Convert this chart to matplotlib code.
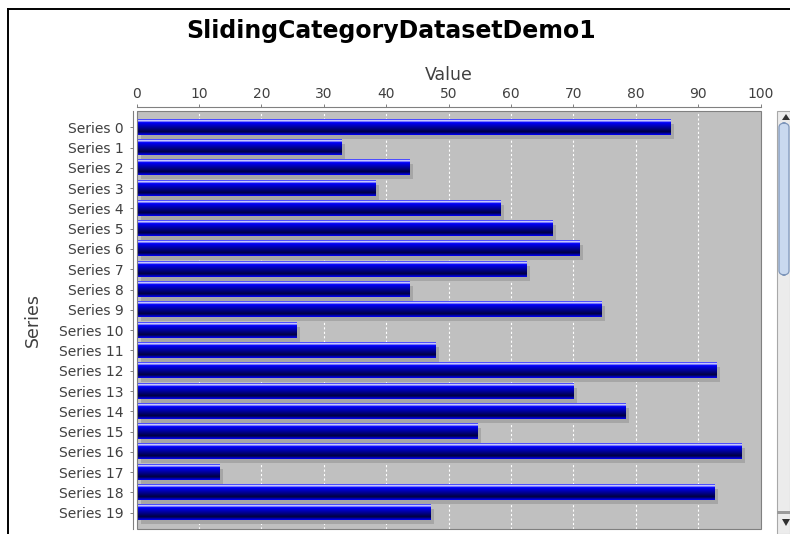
import numpy as np
import matplotlib
matplotlib.use("Agg")
import matplotlib.pyplot as plt
from matplotlib import transforms
from matplotlib.patches import Rectangle, FancyBboxPatch, Polygon
from matplotlib.lines import Line2D

# ---- data -------------------------------------------------------------
categories = ["Series 0", "Series 1", "Series 2", "Series 3", "Series 4",
              "Series 5", "Series 6", "Series 7", "Series 8", "Series 9",
              "Series 10", "Series 11", "Series 12", "Series 13", "Series 14",
              "Series 15", "Series 16", "Series 17", "Series 18", "Series 19"]
values = [85.5, 32.7, 43.6, 38.3, 58.2, 66.6, 70.9, 62.4, 43.6, 74.4,
          25.6, 47.8, 92.9, 70.0, 78.3, 54.6, 96.8, 13.3, 92.6, 47.0]
value_ticks = [0, 10, 20, 30, 40, 50, 60, 70, 80, 90, 100]

title = "SlidingCategoryDatasetDemo1"
x_label = "Value"
y_label = "Series"

# ---- figure -----------------------------------------------------------
W, H, DPI = 790, 534, 100
fig = plt.figure(figsize=(W / DPI, H / DPI), dpi=DPI, facecolor="white")


def fx(px):
    return px / W


def fy(py):
    return 1 - py / H


left, right, top, bottom = 136.5, 760.5, 111, 529
ax = fig.add_axes([fx(left), fy(bottom), fx(right) - fx(left), fy(top) - fy(bottom)])
ax.set_facecolor("#c0c0c0")

TXT = "#404040"
AXIS = "#808080"

# vertical gradient used by every bar (blue -> white -> blue -> navy -> blue)
blue = np.array([0.0, 0.0, 1.0])
white = np.array([1.0, 1.0, 1.0])
navy = np.array([0.0, 0.0, 64 / 255])
rows = []
for t in np.linspace(0, 1, 120):
    if t < 0.1:
        c = blue + (white - blue) * (t / 0.1)
    elif t < 0.2:
        c = white + (blue - white) * ((t - 0.1) / 0.1)
    elif t < 0.8:
        c = blue + (navy - blue) * ((t - 0.2) / 0.6)
    else:
        c = navy + (blue - navy) * ((t - 0.8) / 0.2)
    rows.append(c)
grad = np.array(rows)[:, None, :]

bar_h = 0.74
pos = np.arange(len(categories))

# drop shadows, offset 4 px right and down
shadow_tr = ax.transData + transforms.ScaledTranslation(4 / DPI, -4 / DPI, fig.dpi_scale_trans)
ax.barh(pos, values, height=bar_h, color="#a6a6a6", transform=shadow_tr, zorder=2, linewidth=0)

for i, v in zip(pos, values):
    ax.imshow(grad, extent=(0, v, i + bar_h / 2, i - bar_h / 2), origin="upper",
              aspect="auto", interpolation="bilinear", zorder=3)

ax.set_xlim(0, 100)
ax.set_ylim(len(categories) - 0.2, -0.8)

# dashed white gridlines
for v in value_ticks[1:-1]:
    ax.axvline(v, color="white", lw=0.8, ls=(0, (2, 2)), zorder=1)

# axes: value axis on top, category axis on left, both offset from plot area
ax.xaxis.tick_top()
ax.xaxis.set_label_position("top")
ax.set_xticks(value_ticks)
ax.set_xticklabels([str(v) for v in value_ticks])
ax.set_yticks(pos)
ax.set_yticklabels(categories)
ax.tick_params(axis="x", direction="out", length=2.2, width=0.7, color=AXIS,
               labelsize=10, labelcolor=TXT, pad=2)
ax.tick_params(axis="y", direction="out", length=2.5, width=0.7, color=AXIS,
               labelsize=10, labelcolor=TXT, pad=4)

for s in ["right", "bottom"]:
    ax.spines[s].set_visible(False)
ax.spines["left"].set_position(("outward", 2.6))
ax.spines["top"].set_position(("outward", 2.9))
for s in ["left", "top"]:
    ax.spines[s].set_color(AXIS)
    ax.spines[s].set_linewidth(0.8)

# plot area outline
ax.add_patch(Rectangle((0, 0), 1, 1, transform=ax.transAxes, fill=False,
                       edgecolor=AXIS, lw=0.8, zorder=5, clip_on=False))

ax.set_xlabel(x_label, fontsize=12.5, color=TXT, labelpad=5)
fig.text(fx(33), fy((top + bottom) / 2), y_label, rotation=90, ha="center",
         va="center", fontsize=12.5, color=TXT)

fig.text(fx(391), fy(38), title, ha="center", va="baseline",
         fontsize=17, fontweight="bold", color="black")

# panel border
fig.add_artist(Line2D([fx(8), fx(8)], [fy(9), 0], color="black", lw=1.4))
fig.add_artist(Line2D([fx(8), 1], [fy(9), fy(9)], color="black", lw=1.4))

# scrollbar on the right edge
fig.add_artist(Rectangle((fx(777), 0), fx(790) - fx(777), fy(111), transform=fig.transFigure,
                         facecolor="#ececec", edgecolor="#a8a8a8", lw=0.8))
fig.add_artist(FancyBboxPatch((fx(779), fy(275)), fx(789) - fx(779), fy(123) - fy(275),
                              boxstyle="round,pad=0,rounding_size=0.008",
                              transform=fig.transFigure, facecolor="#c9d9ef",
                              edgecolor="#7f97bb", lw=0.9))
fig.add_artist(Polygon([[fx(782), fy(120)], [fx(790), fy(120)], [fx(786), fy(114)]],
                       closed=True, transform=fig.transFigure, facecolor="#303030", edgecolor="none"))
fig.add_artist(Rectangle((fx(777), fy(514)), fx(790) - fx(777), fy(511) - fy(514),
                         transform=fig.transFigure, facecolor="#9a9a9a", edgecolor="none"))
fig.add_artist(Polygon([[fx(782), fy(519)], [fx(790), fy(519)], [fx(786), fy(526)]],
                       closed=True, transform=fig.transFigure, facecolor="#303030", edgecolor="none"))

fig.savefig("out.png", dpi=DPI, facecolor="white")
